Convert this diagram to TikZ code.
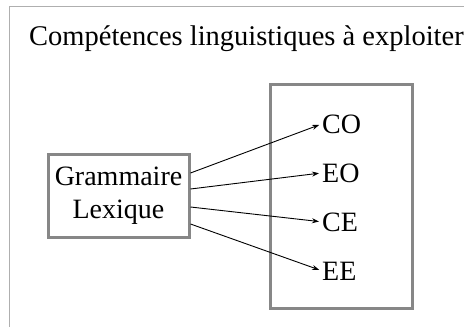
\documentclass[tikz,border=0pt]{standalone}
\usepackage{fontspec}
\setmainfont{Liberation Serif}
\usetikzlibrary{arrows.meta}
\definecolor{boxgray}{RGB}{135,135,135}
\definecolor{framegray}{RGB}{175,175,175}
\begin{document}
\begin{tikzpicture}[x=1pt,y=-1pt,
  boxstyle/.style={draw=boxgray,line width=3pt},
  lbl/.style={inner sep=0pt,font=\fontsize{28}{33}\selectfont},
  arr/.style={-{Stealth[length=7pt,width=5pt]},line width=0.9pt,shorten >=3pt}]
\useasboundingbox (0,0) rectangle (464,327);
\draw[framegray,line width=1pt] (9,327) -- (9,6) -- (464,6);
\node[anchor=base west,inner sep=0pt,font=\fontsize{28.5}{34}\selectfont] (title) at (29,45) {Compétences linguistiques à exploiter};
\draw[boxstyle] (270,84) rectangle (412,308);
\node[boxstyle,minimum width=141pt,minimum height=83pt,inner sep=0pt,align=center,font=\fontsize{28}{33}\selectfont] (g) at (118.5,195.5) {Grammaire\\Lexique};
\node[lbl,anchor=base west] (co) at (322,133) {CO};
\node[lbl,anchor=base west] (eo) at (322,182) {EO};
\node[lbl,anchor=base west] (ce) at (322,231) {CE};
\node[lbl,anchor=base west] (ee) at (322,280) {EE};
\draw[arr] ([yshift=22.5pt]g.east) -- (co.west);
\draw[arr] ([yshift=6.5pt]g.east) -- (eo.west);
\draw[arr] ([yshift=-11.5pt]g.east) -- (ce.west);
\draw[arr] ([yshift=-28.5pt]g.east) -- (ee.west);
\end{tikzpicture}
\end{document}
